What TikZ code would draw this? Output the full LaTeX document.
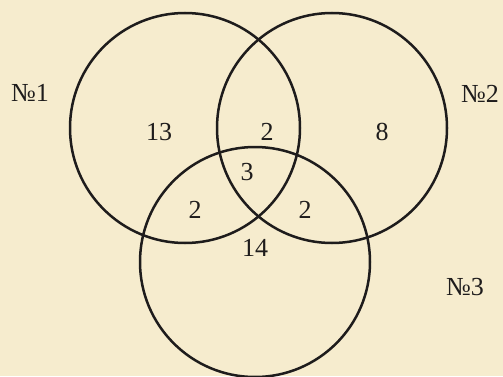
\documentclass[tikz,border=0pt]{standalone}
\usepackage{fontspec}
\setmainfont{Liberation Serif}
\definecolor{paper}{RGB}{246,236,206}
\definecolor{ink}{RGB}{30,28,28}
\begin{document}
\begin{tikzpicture}[x=1pt,y=1pt,
  ring/.style={draw=ink,line width=2.5pt},
  num/.style={font=\fontsize{26}{26}\selectfont,text=ink,inner sep=0pt},
  lab/.style={font=\fontsize{26}{26}\selectfont,text=ink,inner sep=0pt}]
\fill[paper] (0,0) rectangle (503,376);
\useasboundingbox (0,0) rectangle (503,376);
\node[ring,circle,minimum size=230pt,inner sep=0pt] (c1) at (185,248) {};
\node[ring,circle,minimum size=230pt,inner sep=0pt] (c2) at (332,248) {};
\node[ring,circle,minimum size=230pt,inner sep=0pt] (c3) at (255,114) {};
\node[lab] (l1) at (30,283) {№1};
\node[lab] (l2) at (480,282) {№2};
\node[lab] (l3) at (465,89) {№3};
\node[num] (a) at (159,244) {13};
\node[num] (b) at (267,244) {2};
\node[num] (c) at (382,244) {8};
\node[num] (d) at (247,204) {3};
\node[num] (e) at (195,166) {2};
\node[num] (f) at (305,166) {2};
\node[num] (g) at (255,128) {14};
\end{tikzpicture}
\end{document}
